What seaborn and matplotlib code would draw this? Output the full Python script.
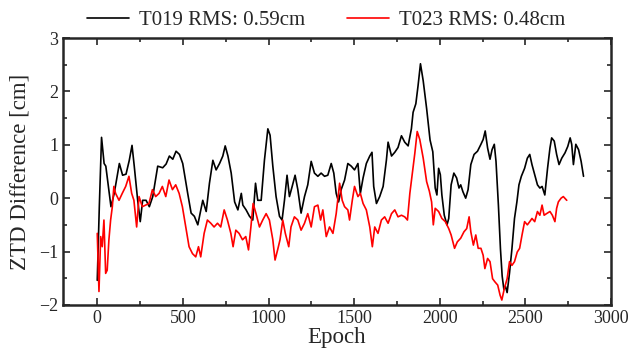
import matplotlib
matplotlib.use("Agg")
import matplotlib.pyplot as plt
from matplotlib.ticker import MultipleLocator
import seaborn as sns
import pandas as pd

# ZTD difference series (cm) against epoch number
t019_epoch = [0, 12, 25, 40, 50, 80, 99, 129, 148, 168, 187, 203, 216, 236, 251, 265, 285, 304, 324, 353,
              382, 402, 421, 441, 460, 480, 499, 528, 548, 567, 587, 597, 616, 636, 655, 675, 694, 714, 733, 747,
              763, 782, 802, 821, 841, 850, 869, 889, 908, 924, 937, 957, 976, 996, 1009, 1025, 1044, 1064, 1079, 1093,
              1108, 1122, 1138, 1155, 1171, 1190, 1210, 1229, 1249, 1268, 1288, 1307, 1327, 1346, 1366, 1381, 1395, 1409, 1424, 1444,
              1463, 1483, 1502, 1522, 1536, 1552, 1571, 1591, 1604, 1614, 1630, 1649, 1669, 1688, 1698, 1718, 1737, 1756, 1776, 1795,
              1815, 1834, 1844, 1860, 1873, 1887, 1903, 1923, 1943, 1959, 1973, 1983, 1993, 2003, 2012, 2026, 2042, 2052, 2066, 2082,
              2098, 2112, 2122, 2135, 2151, 2165, 2181, 2200, 2220, 2240, 2253, 2265, 2279, 2293, 2305, 2318, 2328, 2342, 2354, 2364,
              2374, 2383, 2393, 2407, 2421, 2436, 2450, 2462, 2476, 2495, 2511, 2525, 2538, 2554, 2570, 2584, 2597, 2613, 2629, 2643,
              2653, 2668, 2682, 2696, 2712, 2731, 2747, 2761, 2770, 2780, 2794, 2810, 2825, 2839]
t019_diff = [-1.54, -0.16, 1.14, 0.65, 0.60, -0.16, 0.09, 0.65, 0.43, 0.45, 0.71, 0.99, 0.60, -0.04, -0.44, -0.04, -0.04, -0.16, 0.03, 0.60,
             0.57, 0.64, 0.79, 0.73, 0.88, 0.82, 0.65, 0.09, -0.28, -0.34, -0.50, -0.34, -0.04, -0.25, 0.28, 0.71, 0.53, 0.65, 0.79, 0.98,
             0.79, 0.47, -0.07, -0.22, 0.09, -0.13, -0.22, -0.34, -0.41, 0.28, -0.04, -0.04, 0.71, 1.30, 1.18, 0.60, 0.03, -0.34, -0.41, -0.04,
             0.43, 0.03, 0.22, 0.43, 0.16, -0.28, 0.03, 0.25, 0.69, 0.47, 0.41, 0.47, 0.41, 0.43, 0.65, 0.47, 0.09, -0.07, 0.16, 0.34,
             0.65, 0.60, 0.53, 0.65, 0.09, 0.38, 0.65, 0.79, 0.86, 0.22, -0.10, 0.03, 0.22, 0.71, 1.05, 0.79, 0.86, 0.95, 1.17, 1.05,
             0.98, 1.30, 1.61, 1.77, 2.11, 2.52, 2.20, 1.68, 1.09, 0.87, 0.19, 0.06, 0.56, 0.44, 0.06, -0.32, -0.50, -0.38, 0.25, 0.47,
             0.38, 0.19, 0.25, 0.12, 0.00, 0.16, 0.63, 0.82, 0.88, 1.01, 1.10, 1.26, 0.94, 0.73, 0.91, 1.01, 0.69, -0.13, -0.95, -1.46,
             -1.71, -1.65, -1.77, -1.40, -0.95, -0.38, -0.07, 0.25, 0.41, 0.56, 0.75, 0.82, 0.63, 0.44, 0.25, 0.19, 0.22, 0.06, 0.56, 0.94,
             1.13, 1.07, 0.82, 0.63, 0.75, 0.85, 0.97, 1.13, 1.01, 0.63, 1.01, 0.91, 0.69, 0.41]

t023_epoch = [0, 10, 20, 29, 39, 49, 58, 68, 78, 88, 97, 107, 127, 146, 166, 185, 201, 214, 230, 244,
              263, 283, 302, 322, 341, 361, 380, 400, 419, 439, 458, 478, 497, 517, 536, 556, 575, 591, 604, 624,
              643, 663, 682, 702, 721, 741, 760, 780, 793, 809, 828, 848, 867, 883, 897, 910, 927, 947, 966, 986,
              1005, 1025, 1038, 1053, 1067, 1083, 1098, 1118, 1131, 1151, 1171, 1190, 1210, 1229, 1249, 1268, 1288, 1304, 1317, 1337,
              1356, 1376, 1395, 1415, 1430, 1444, 1463, 1473, 1489, 1502, 1522, 1536, 1552, 1571, 1591, 1606, 1620, 1639, 1659, 1678,
              1698, 1718, 1737, 1756, 1776, 1795, 1811, 1825, 1840, 1854, 1868, 1883, 1903, 1923, 1939, 1952, 1962, 1973, 1993, 2012,
              2032, 2052, 2066, 2086, 2102, 2122, 2141, 2157, 2171, 2181, 2196, 2210, 2224, 2240, 2253, 2263, 2279, 2293, 2308, 2322,
              2338, 2352, 2362, 2377, 2393, 2407, 2421, 2436, 2452, 2466, 2480, 2495, 2511, 2525, 2538, 2554, 2570, 2584, 2597, 2609,
              2623, 2643, 2657, 2672, 2682, 2692, 2708, 2721, 2741]
t023_diff = [-0.66, -1.75, -0.72, -0.91, -0.41, -1.41, -1.35, -0.78, -0.41, -0.16, 0.22, 0.09, -0.04, 0.09, 0.22, 0.41, 0.09, -0.04, -0.54, 0.03,
             -0.16, -0.13, -0.10, 0.16, 0.03, 0.09, 0.22, 0.03, 0.34, 0.16, 0.25, 0.09, -0.16, -0.54, -0.91, -1.04, -1.10, -0.91, -1.10, -0.66,
             -0.41, -0.47, -0.54, -0.47, -0.54, -0.22, -0.41, -0.66, -0.91, -0.60, -0.66, -0.78, -0.72, -0.97, -0.54, -0.10, -0.29, -0.54, -0.41, -0.29,
             -0.41, -0.78, -1.16, -0.97, -0.78, -0.41, -0.66, -0.91, -0.54, -0.35, -0.41, -0.60, -0.47, -0.29, -0.54, -0.16, -0.13, -0.41, -0.22, -0.72,
             -0.54, -0.66, -0.29, 0.28, -0.04, -0.16, -0.22, -0.41, -0.04, 0.22, 0.03, 0.09, -0.10, -0.22, -0.54, -0.91, -0.54, -0.66, -0.41, -0.35,
             -0.47, -0.29, -0.22, -0.35, -0.32, -0.35, -0.41, 0.09, 0.47, 0.84, 1.25, 1.10, 0.75, 0.31, 0.13, -0.07, -0.50, -0.19, -0.25, -0.38,
             -0.44, -0.57, -0.69, -0.94, -0.82, -0.75, -0.63, -0.57, -0.35, -0.63, -0.88, -0.69, -0.94, -0.94, -1.07, -1.32, -1.13, -1.19, -1.51, -1.57,
             -1.63, -1.82, -1.91, -1.69, -1.51, -1.19, -1.26, -1.19, -1.01, -0.94, -0.69, -0.44, -0.50, -0.44, -0.38, -0.44, -0.25, -0.32, -0.13, -0.32,
             -0.29, -0.25, -0.32, -0.44, -0.19, -0.07, 0.00, 0.03, -0.04]

legend_labels = ["T019 RMS: 0.59cm", "T023 RMS: 0.48cm"]
line_colors = ["black", "red"]

sns.set_style("ticks")
plt.rcParams["font.family"] = ["Liberation Serif", "DejaVu Serif"]
plt.rcParams["axes.unicode_minus"] = True

fig = plt.figure(figsize=(6.3, 3.5), dpi=100)
ax = fig.add_axes([0.100, 0.129, 0.870, 0.762])

df019 = pd.DataFrame({"Epoch": t019_epoch, "diff": t019_diff})
df023 = pd.DataFrame({"Epoch": t023_epoch, "diff": t023_diff})
sns.lineplot(data=df019, x="Epoch", y="diff", color=line_colors[0], lw=1.2,
             label=legend_labels[0], ax=ax, sort=False)
sns.lineplot(data=df023, x="Epoch", y="diff", color=line_colors[1], lw=1.2,
             label=legend_labels[1], ax=ax, sort=False)

ax.set_xlim(-200, 3000)
ax.set_ylim(-2, 3)
ax.xaxis.set_major_locator(MultipleLocator(500))
ax.xaxis.set_minor_locator(MultipleLocator(250))
ax.yaxis.set_major_locator(MultipleLocator(1))
ax.yaxis.set_minor_locator(MultipleLocator(0.5))
ax.tick_params(which="both", direction="in", top=True, right=True, labelsize=13, width=1.2)
ax.tick_params(axis="x", which="major", pad=4)
ax.tick_params(which="major", length=5)
ax.tick_params(which="minor", length=3)
for sp in ax.spines.values():
    sp.set_linewidth(1.8)

ax.set_xlabel("Epoch", fontsize=16.5, labelpad=0)
ax.set_ylabel("ZTD Difference [cm]", fontsize=16.5, labelpad=6)

ax.legend(loc="lower center", bbox_to_anchor=(0.48, 1.0), ncol=2, frameon=False,
          fontsize=15, handlelength=2.0, columnspacing=2.0, borderaxespad=0.0,
          handletextpad=0.5)

fig.savefig("out.png", dpi=100)
